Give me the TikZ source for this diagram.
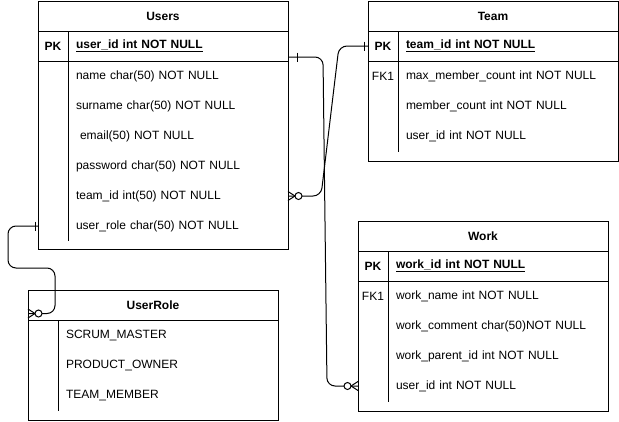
\documentclass[tikz,border=0pt]{standalone}
\usepackage{fontspec}
\setmainfont{Liberation Sans}
\usetikzlibrary{positioning}

\begin{document}
\begin{tikzpicture}[
  x=1pt, y=-1pt, line width=1pt, font=\fontsize{12pt}{14pt}\selectfont,
  tabtitle/.style={draw, minimum width=250pt, minimum height=30pt, inner sep=0pt, outer sep=0pt, font=\fontsize{12pt}{14pt}\selectfont\bfseries},
  field/.style={minimum width=220pt, minimum height=30pt, text width=204pt, inner xsep=8pt, inner ysep=0pt, outer sep=0pt, align=left},
  pkfield/.style={field, font=\fontsize{12pt}{14pt}\selectfont\bfseries},
  keycol/.style={minimum width=30pt, minimum height=30pt, inner sep=0pt, outer sep=0pt},
  pkcol/.style={keycol, font=\fontsize{12pt}{14pt}\selectfont\bfseries},
  rel/.style={draw, rounded corners=8pt},
  pics/zmany/.style={code={
    \draw (-7,0) -- (0,4.5) (-7,0) -- (0,-4.5);
    \draw[fill=white] (-10.5,0) circle (3.5pt);
  }},
  pics/onebar/.style={code={\draw (0,-4.5) -- (0,4.5);}},
]
  \useasboundingbox (0,0) rectangle (619,421);

  \node[tabtitle] (users) at (163,16) {Users};
  \node[pkfield, anchor=north west] (users-uid) at ([xshift=30pt]users.south west) {\underline{user\_id int NOT NULL}};
  \node[pkcol, left=0pt of users-uid] (users-pk) {PK};
  \node[field, below=0pt of users-uid] (users-name) {name char(50) NOT NULL};
  \node[field, below=0pt of users-name] (users-sname) {surname char(50) NOT NULL};
  \node[field, below=0pt of users-sname] (users-mail) {\ email(50) NOT NULL};
  \node[field, below=0pt of users-mail] (users-pass) {password char(50) NOT NULL};
  \node[field, below=0pt of users-pass] (users-tid) {team\_id int(50) NOT NULL};
  \node[field, below=0pt of users-tid] (users-role) {user\_role char(50) NOT NULL};
  \draw (users.south west) rectangle ([yshift=-8pt]users-role.south east);
  \draw (users-uid.south west -| users.west) -- (users-uid.south east);
  \draw (users-uid.north west) -- (users-role.south west);

  \node[tabtitle] (team) at (493,16) {Team};
  \node[pkfield, anchor=north west] (team-tid) at ([xshift=30pt]team.south west) {\underline{team\_id int NOT NULL}};
  \node[pkcol, left=0pt of team-tid] (team-pk) {PK};
  \node[field, below=0pt of team-tid] (team-max) {max\_member\_count int NOT NULL};
  \node[keycol, left=0pt of team-max] (team-fk) {FK1};
  \node[field, below=0pt of team-max] (team-cnt) {member\_count int NOT NULL};
  \node[field, below=0pt of team-cnt] (team-uid) {user\_id int NOT NULL};
  \draw (team.south west) rectangle ([yshift=-10pt]team-uid.south east);
  \draw (team-tid.south west -| team.west) -- (team-tid.south east);
  \draw (team-tid.north west) -- ([yshift=-1pt]team-uid.south west);

  \node[tabtitle] (work) at (483,236) {Work};
  \node[pkfield, anchor=north west] (work-wid) at ([xshift=30pt]work.south west) {\underline{work\_id int NOT NULL}};
  \node[pkcol, left=0pt of work-wid] (work-pk) {PK};
  \node[field, below=0pt of work-wid] (work-name) {work\_name int NOT NULL};
  \node[keycol, left=0pt of work-name] (work-fk) {FK1};
  \node[field, below=0pt of work-name] (work-comm) {work\_comment char(50)NOT NULL};
  \node[field, below=0pt of work-comm] (work-par) {work\_parent\_id int NOT NULL};
  \node[field, below=0pt of work-par] (work-uid) {user\_id int NOT NULL};
  \draw (work.south west) rectangle ([yshift=-10pt]work-uid.south east);
  \draw (work-wid.south west -| work.west) -- (work-wid.south east);
  \draw (work-wid.north west) -- ([yshift=-1pt]work-uid.south west);

  \node[tabtitle] (userrole) at (153,305.5) {UserRole};
  \node[field, anchor=north west] (role-sm) at ([xshift=30pt]userrole.south west) {SCRUM\_MASTER};
  \node[field, below=0pt of role-sm] (role-po) {PRODUCT\_OWNER};
  \node[field, below=0pt of role-po] (role-tm) {TEAM\_MEMBER};
  \draw (userrole.south west) rectangle ([yshift=-10pt]role-tm.south east);
  \draw (role-sm.north west) -- (role-tm.south west);

  \draw[rel] ([yshift=-11pt]users-uid.east) -- (323,57) -- (327,386) -- (work-uid.west -| work.west);
  \pic at (297,57) {onebar};
  \pic at (work-uid.west -| work.west) {zmany};

  \draw[rel] (users-tid.east) -- (321,196) -- (339,46) -- (team-tid.west -| team.west);
  \pic[rotate=180] at (users-tid.east) {zmany};
  \pic at (364,46) {onebar};

  \draw[rel] (users-role.west -| users.west) -- (8,226) -- (8,268) -- (55,268) -- (55,313.5) -- ([yshift=-8pt]userrole.west);
  \pic at (35,226) {onebar};
  \pic[rotate=180] at ([yshift=-8pt]userrole.west) {zmany};
\end{tikzpicture}
\end{document}
